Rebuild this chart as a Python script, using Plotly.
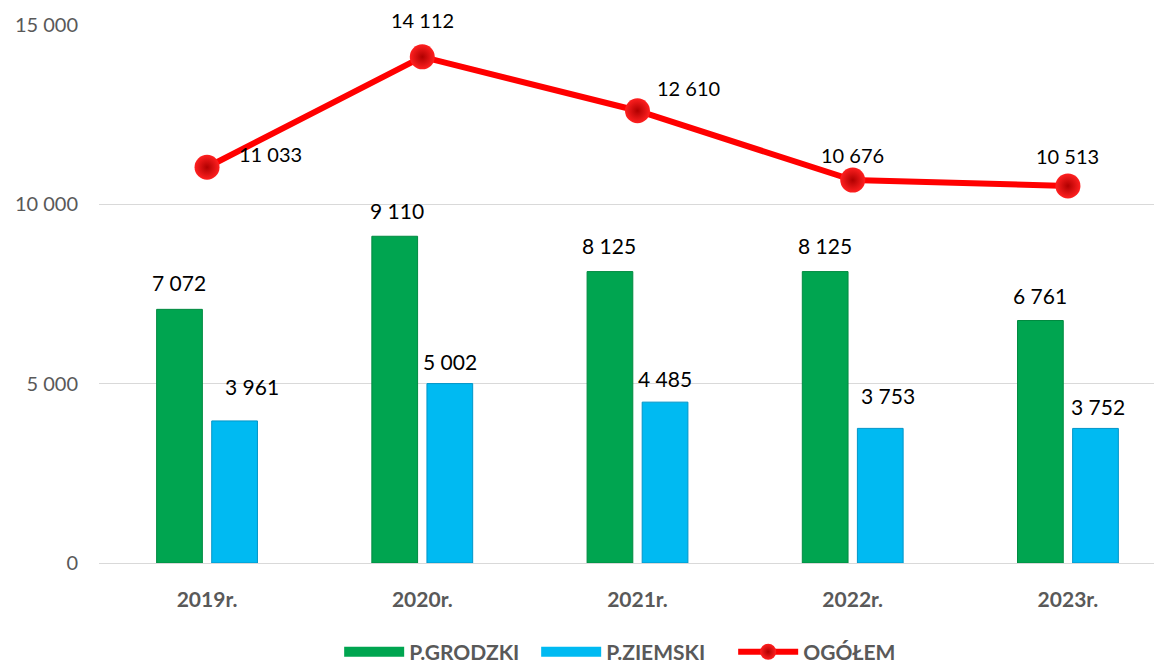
import plotly.graph_objects as go

categories = ["2019r.", "2020r.", "2021r.", "2022r.", "2023r."]
grodzki = [7072, 9110, 8125, 8125, 6761]
ziemski = [3961, 5002, 4485, 3753, 3752]
ogolem = [11033, 14112, 12610, 10676, 10513]

# label placement (pixel offsets from the mark), style only
ogolem_label_shift = [(63, 13), (0, 37), (51, 23), (0, 25), (0, 30)]
ziemski_label_shift = [(17, 34), (0, 22), (0, 24), (8, 33), (2, 22)]
grodzki_label_shift = [(0, 27), (2, 26), (-1, 26), (0, 26), (0, 25)]

FONT = "Lato"
GRAY = "#595959"
GREEN = "#00A550"
BLUE = "#00BAF2"

def fmt(v):
    return f"{v:,}".replace(",", " ")

fig = go.Figure()
fig.add_trace(go.Bar(
    x=categories, y=grodzki, name="P.GRODZKI", showlegend=False,
    marker=dict(color=GREEN, line=dict(color="#008A40", width=1)),
))
fig.add_trace(go.Bar(
    x=categories, y=ziemski, name="P.ZIEMSKI", showlegend=False,
    marker=dict(color=BLUE, line=dict(color="#0095C8", width=1)),
))
# legend entries drawn as wide rectangles
fig.add_trace(go.Scatter(x=[None], y=[None], mode="lines", name="P.GRODZKI",
                         line=dict(color=GREEN, width=14)))
fig.add_trace(go.Scatter(x=[None], y=[None], mode="lines", name="P.ZIEMSKI",
                         line=dict(color=BLUE, width=14)))
fig.add_trace(go.Scatter(
    x=categories, y=ogolem, name="OGÓŁEM", mode="lines+markers",
    line=dict(color="#FF0000", width=6),
    marker=dict(size=25, color="#FF2020",
                gradient=dict(type="radial", color="#B00000"),
                line=dict(width=0)),
    cliponaxis=False,
))

for i, v in enumerate(ogolem):
    dx, dy = ogolem_label_shift[i]
    fig.add_annotation(x=categories[i], y=v, xref="x", yref="y", text=fmt(v),
                       showarrow=False, xshift=dx, yshift=dy,
                       font=dict(family=FONT, size=20, color="#000000"))

for vals, shifts, xs in ((grodzki, grodzki_label_shift, -0.128),
                         (ziemski, ziemski_label_shift, 0.128)):
    for i, v in enumerate(vals):
        dx, dy = shifts[i]
        fig.add_annotation(
            x=i + xs, y=v, xref="x", yref="y",
            text=fmt(v), showarrow=False, xshift=dx, yshift=dy,
            font=dict(family=FONT, size=21, color="#000000"),
        )

fig.update_layout(
    width=1162, height=662,
    margin=dict(l=91, r=8, t=17, b=107, autoexpand=False),
    paper_bgcolor="white", plot_bgcolor="white",
    barmode="group", bargap=0.488, bargroupgap=0.17,
    font=dict(family=FONT, color=GRAY),
    legend=dict(orientation="h", xref="container", x=0.285, xanchor="left",
                yref="container", y=0.027, yanchor="middle",
                font=dict(family=FONT, size=21, color=GRAY, weight="bold"),
                itemwidth=60, entrywidth=122, entrywidthmode="pixels",
                traceorder="normal"),
    showlegend=True,
)
fig.update_xaxes(
    type="category", range=[-0.502, 4.437],
    showgrid=False, showline=True, linecolor="#D9D9D9", linewidth=1,
    ticks="", ticklabelstandoff=18,
    tickfont=dict(family=FONT, size=21, color=GRAY, weight="bold"),
)
fig.update_yaxes(
    range=[0, 15000], tickvals=[0, 5000, 10000, 15000],
    ticktext=["0", "5 000", "10 000", "15 000"],
    showgrid=True, gridcolor="#D9D9D9", gridwidth=1,
    zeroline=False, showline=False, ticklabelstandoff=20,
    tickfont=dict(family=FONT, size=20, color=GRAY),
)

fig.write_html("out.html")
